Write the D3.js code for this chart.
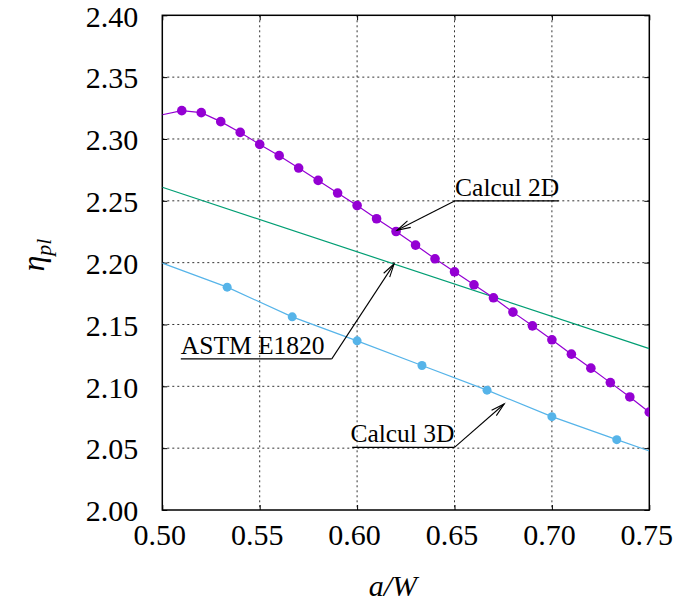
<!DOCTYPE html>
<html>
<head>
<meta charset="utf-8">
<script src="https://cdn.jsdelivr.net/npm/d3@7"></script>
<style>
html,body{margin:0;padding:0;background:#fff;}
svg{display:block;}
</style>
</head>
<body>
<svg id="chart" width="674" height="606"></svg>
<script>
// ---- data ----
const xTicks = [0.50, 0.55, 0.60, 0.65, 0.70, 0.75];
const yTicks = [2.00, 2.05, 2.10, 2.15, 2.20, 2.25, 2.30, 2.35, 2.40];

// Calcul 2D (line starts at a/W = 0.50, markers from 0.51)
const calc2dX = [0.50, 0.51, 0.52, 0.53, 0.54, 0.55, 0.56, 0.57, 0.58, 0.59, 0.60, 0.61, 0.62, 0.63, 0.64, 0.65, 0.66, 0.67, 0.68, 0.69, 0.70, 0.71, 0.72, 0.73, 0.74, 0.75];
const calc2dY = [2.3196, 2.3229, 2.3213, 2.3140, 2.3053, 2.2956, 2.2865, 2.2765, 2.2665, 2.2563, 2.2462, 2.2355, 2.2252, 2.2142, 2.2031, 2.1926, 2.1821, 2.1716, 2.1600, 2.1489, 2.1376, 2.1260, 2.1147, 2.1030, 2.0914, 2.0791];
const calc2dMarked = [false, true, true, true, true, true, true, true, true, true, true, true, true, true, true, true, true, true, true, true, true, true, true, true, true, true];

// ASTM E1820
const astmX = [0.50, 0.75];
const astmY = [2.2610, 2.1305];

// Calcul 3D
const calc3dX = [0.50, 0.5333, 0.5667, 0.60, 0.6333, 0.6667, 0.70, 0.7333, 0.75];
const calc3dY = [2.1996, 2.1802, 2.1562, 2.1368, 2.1168, 2.0969, 2.0755, 2.0569, 2.0477];
const calc3dMarked = [false, true, true, true, true, true, true, true, false];

// annotations (data coordinates)
const annText   = ["Calcul 2D", "ASTM E1820", "Calcul 3D"];
const annLineX0 = [0.6503, 0.5095, 0.5975];
const annLineX1 = [0.7035, 0.5870, 0.6500];
const annLineY  = [2.2500, 2.1222, 2.0507];
const annFromX  = [0.6503, 0.5870, 0.6500];
const annTipX   = [0.6205, 0.6190, 0.6755];
const annTipY   = [2.2262, 2.1990, 2.0857];
const annAnchor = ["start", "start", "end"];

// ---- layout ----
const FONT = "'Liberation Serif', Tinos, 'Times New Roman', 'DejaVu Serif', serif";
const svg = d3.select("#chart");
const L = 162.3, R = 649.3, T = 15.3, B = 510;
const x = d3.scaleLinear().domain([0.50, 0.75]).range([L, R]);
const y = d3.scaleLinear().domain([2.00, 2.40]).range([B, T]);

// grid
const grid = svg.append("g");
grid.selectAll("line.gx").data(xTicks.slice(1, -1)).join("line")
  .attr("x1", d => x(d)).attr("x2", d => x(d)).attr("y1", T).attr("y2", B)
  .attr("stroke", "#000").attr("stroke-width", 1).attr("stroke-dasharray", "2,3").attr("opacity", 0.8);
grid.selectAll("line.gy").data(yTicks.slice(1, -1)).join("line")
  .attr("y1", d => y(d)).attr("y2", d => y(d)).attr("x1", L).attr("x2", R)
  .attr("stroke", "#000").attr("stroke-width", 1).attr("stroke-dasharray", "2,3").attr("opacity", 0.8);

// axes via d3 (inward ticks, labels outside)
const xAxis = svg.append("g").attr("transform", `translate(0,${B})`)
  .call(d3.axisBottom(x).tickValues(xTicks).tickFormat(d3.format(".2f")).tickSizeInner(-5).tickSizeOuter(0).tickPadding(14));
const yAxis = svg.append("g").attr("transform", `translate(${L},0)`)
  .call(d3.axisLeft(y).tickValues(yTicks).tickFormat(d3.format(".2f")).tickSizeInner(-5).tickSizeOuter(0).tickPadding(24));
const xTop = svg.append("g").attr("transform", `translate(0,${T})`)
  .call(d3.axisTop(x).tickValues(xTicks).tickFormat("").tickSizeInner(-5).tickSizeOuter(0));
const yRight = svg.append("g").attr("transform", `translate(${R},0)`)
  .call(d3.axisRight(y).tickValues(yTicks).tickFormat("").tickSizeInner(-5).tickSizeOuter(0));
[xAxis, yAxis, xTop, yRight].forEach(g => {
  g.attr("font-family", null).attr("font-size", null);
  g.select(".domain").remove();
  g.selectAll(".tick line").attr("stroke", "#000");
  g.selectAll("text").style("font-family", FONT).style("font-size", "30px").attr("fill", "#000");
});
xAxis.selectAll("text").attr("dy", "0.71em").attr("dx", -3);
yAxis.selectAll("text").attr("dy", "0.36em");

// frame
svg.append("rect").attr("x", L).attr("y", T).attr("width", R - L).attr("height", B - T)
  .attr("fill", "none").attr("stroke", "#000").attr("stroke-width", 1.5);

// series
svg.append("defs").append("clipPath").attr("id", "clip")
  .append("rect").attr("x", L).attr("y", T).attr("width", R - L).attr("height", B - T);
const plot = svg.append("g").attr("clip-path", "url(#clip)");
const line = d3.line().x(d => x(d[0])).y(d => y(d[1]));

function drawSeries(xs, ys, marked, color, r) {
  const pts = xs.map((v, i) => [v, ys[i], marked ? marked[i] : false]);
  plot.append("path").datum(pts).attr("d", line)
    .attr("fill", "none").attr("stroke", color).attr("stroke-width", 1.2);
  if (marked) {
    plot.selectAll(null).data(pts.filter(p => p[2])).join("circle")
      .attr("cx", d => x(d[0])).attr("cy", d => y(d[1])).attr("r", r).attr("fill", color);
  }
}
drawSeries(astmX, astmY, null, "#009e73", 0);
drawSeries(calc3dX, calc3dY, calc3dMarked, "#56b4e9", 4.5);
drawSeries(calc2dX, calc2dY, calc2dMarked, "#9400d3", 4.8);

// annotations
const ann = svg.append("g");
annText.forEach((t, i) => {
  const x0 = x(annLineX0[i]), x1 = x(annLineX1[i]), yl = y(annLineY[i]);
  ann.append("line").attr("x1", x0).attr("x2", x1).attr("y1", yl).attr("y2", yl)
    .attr("stroke", "#000").attr("stroke-width", 1.3);
  ann.append("text").attr("x", annAnchor[i] === "start" ? x0 : x1).attr("y", yl - 5)
    .attr("text-anchor", annAnchor[i]).style("font-family", FONT).style("font-size", "25.5px").text(t);
  const fx = x(annFromX[i]), tx = x(annTipX[i]), ty = y(annTipY[i]);
  ann.append("line").attr("x1", fx).attr("y1", yl).attr("x2", tx).attr("y2", ty)
    .attr("stroke", "#000").attr("stroke-width", 1.1);
  const ang = Math.atan2(ty - yl, tx - fx);
  const hl = 14, ha = 0.26;
  const p1 = [tx - hl * Math.cos(ang - ha), ty - hl * Math.sin(ang - ha)];
  const p2 = [tx - hl * Math.cos(ang + ha), ty - hl * Math.sin(ang + ha)];
  ann.append("path").attr("d", `M${p1[0]},${p1[1]}L${tx},${ty}L${p2[0]},${p2[1]}`)
    .attr("fill", "none").attr("stroke", "#000").attr("stroke-width", 1.1);
});

// axis titles
svg.append("text").attr("x", (L + R) / 2 - 13).attr("y", 596).attr("text-anchor", "middle")
  .style("font-family", FONT).style("font-size", "30px").style("font-style", "italic").text("a/W");
const yt = svg.append("text").attr("transform", "translate(44,255) rotate(-90)")
  .attr("text-anchor", "middle").style("font-family", FONT).style("font-style", "italic").style("font-size", "32px");
yt.append("tspan").text("η");
yt.append("tspan").style("font-size", "22px").attr("dy", 7).text("pl");
</script>
</body>
</html>
